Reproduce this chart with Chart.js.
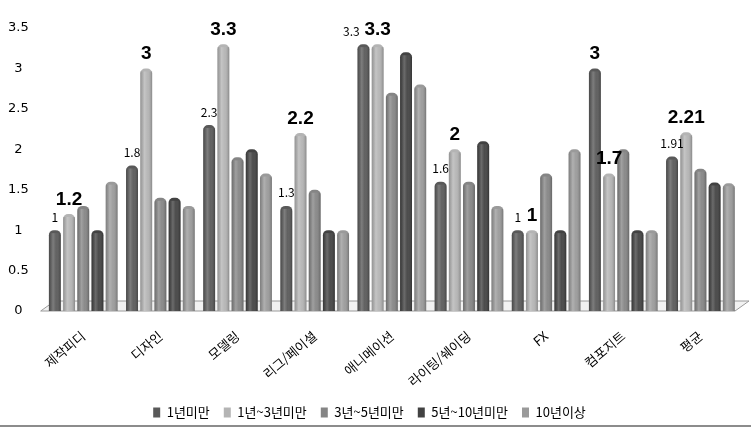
<!DOCTYPE html>
<html lang="ko">
<head>
<meta charset="UTF-8">
<title>경력별 평균</title>
<script src="https://cdn.jsdelivr.net/npm/chart.js"></script>
<style>
  html, body { margin: 0; padding: 0; background: #fff; }
  #wrap { position: relative; width: 751px; height: 436px; }
  #rule { position: absolute; left: 0; top: 425px; width: 751px; height: 2px; background: #8c8c8c; }
</style>
</head>
<body>
<div id="wrap">
  <canvas id="c" width="751" height="436"></canvas>
  <div id="rule"></div>
</div>
<script>
// categories and series
const categories = ['제작피디', '디자인', '모델링', '리그/페이셜', '애니메이션', '라이팅/쉐이딩', 'FX', '컴포지트', '평균'];
const seriesNames = ['1년미만', '1년~3년미만', '3년~5년미만', '5년~10년미만', '10년이상'];
const under1 = [1, 1.8, 2.3, 1.3, 3.3, 1.6, 1, 3, 1.91];
const y1to3 = [1.2, 3, 3.3, 2.2, 3.3, 2, 1, 1.7, 2.21];
const y3to5 = [1.3, 1.4, 1.9, 1.5, 2.7, 1.6, 1.7, 2, 1.76];
const y5to10 = [1, 1.4, 2, 1, 3.2, 2.1, 1, 1, 1.59];
const over10 = [1.6, 1.3, 1.7, 1, 2.8, 1.3, 2, 1, 1.58];
const yTicks = [0, 0.5, 1, 1.5, 2, 2.5, 3, 3.5];

// value labels shown on the first two series
const under1Labels = ['1', '1.8', '2.3', '1.3', '3.3', '1.6', '1', '3', '1.91'];
const under1Big = [false, false, false, false, false, false, false, true, false];
const y1to3Labels = ['1.2', '3', '3.3', '2.2', '3.3', '2', '1', '1.7', '2.21'];

const colors = ['#595959', '#b4b4b4', '#858585', '#424242', '#9a9a9a'];
const allSeries = [under1, y1to3, y3to5, y5to10, over10];

const FONT = '"Noto Sans CJK KR", "DejaVu Sans", sans-serif';
const NARROW = '"Liberation Sans Narrow", "Liberation Sans", sans-serif';

// floor under the bars, drawn like the 3D base of the original
const floorPlugin = {
  id: 'floor',
  beforeDatasetsDraw(chart) {
    const { ctx, chartArea } = chart;
    const y0 = chart.scales.y.getPixelForValue(0);
    ctx.save();
    ctx.fillStyle = '#f2f2f2';
    ctx.strokeStyle = '#9a9a9a';
    ctx.lineWidth = 1;
    ctx.beginPath();
    ctx.moveTo(chartArea.left - 4, y0);
    ctx.lineTo(chartArea.left + 10, y0 - 10);
    ctx.lineTo(chartArea.right + 10, y0 - 10);
    ctx.lineTo(chartArea.right - 4, y0);
    ctx.closePath();
    ctx.fill();
    ctx.stroke();
    ctx.restore();
  }
};

// cylinder shading and value labels
const barPlugin = {
  id: 'barDeco',
  afterDatasetsDraw(chart) {
    const { ctx } = chart;
    chart.data.datasets.forEach((ds, di) => {
      const meta = chart.getDatasetMeta(di);
      meta.data.forEach((bar) => {
        const w = bar.width;
        const g = ctx.createLinearGradient(bar.x - w / 2, 0, bar.x + w / 2, 0);
        g.addColorStop(0, 'rgba(0,0,0,0.18)');
        g.addColorStop(0.35, 'rgba(255,255,255,0.22)');
        g.addColorStop(0.6, 'rgba(255,255,255,0.05)');
        g.addColorStop(1, 'rgba(0,0,0,0.25)');
        ctx.save();
        ctx.fillStyle = g;
        ctx.fillRect(bar.x - w / 2, bar.y + 3, w, bar.base - bar.y - 3);
        ctx.restore();
      });
    });

    const small = '12px ' + FONT;
    const big = 'bold 19px ' + NARROW;
    ctx.save();
    ctx.textAlign = 'center';
    ctx.textBaseline = 'bottom';
    ctx.fillStyle = '#000';
    const m0 = chart.getDatasetMeta(0).data;
    const m1 = chart.getDatasetMeta(1).data;
    m0.forEach((bar, i) => {
      ctx.font = under1Big[i] ? big : small;
      const shift = i === 4 ? -12 : 0;
      ctx.fillText(under1Labels[i], bar.x + shift, bar.y - (under1Big[i] ? 5 : 7));
    });
    m1.forEach((bar, i) => {
      ctx.font = big;
      ctx.fillText(y1to3Labels[i], bar.x, bar.y - 5);
    });
    ctx.restore();
  }
};

new Chart(document.getElementById('c'), {
  type: 'bar',
  data: {
    labels: categories,
    datasets: seriesNames.map((name, i) => ({
      label: name,
      data: allSeries[i],
      backgroundColor: colors[i],
      borderRadius: { topLeft: 5, topRight: 5, bottomLeft: 0, bottomRight: 0 },
      borderSkipped: 'bottom',
      barPercentage: 0.84,
      categoryPercentage: 0.92
    }))
  },
  options: {
    responsive: false,
    animation: false,
    layout: { padding: { top: 28, right: 12, left: 0, bottom: 7 } },
    plugins: {
      tooltip: { enabled: false },
      legend: {
        position: 'bottom',
        labels: {
          boxWidth: 7,
          boxHeight: 10,
          padding: 14,
          color: '#000',
          font: { family: FONT, size: 13 }
        }
      }
    },
    scales: {
      x: {
        grid: { display: false },
        border: { display: false },
        afterFit(axis) { axis.height = 81; },
        ticks: {
          maxRotation: 40,
          minRotation: 40,
          color: '#000',
          padding: 9,
          font: { family: FONT, size: 13 }
        }
      },
      y: {
        min: 0,
        max: 3.5,
        afterBuildTicks(axis) { axis.ticks = yTicks.map(v => ({ value: v })); },
        grid: { display: false },
        border: { display: false },
        ticks: {
          color: '#000',
          padding: 8,
          crossAlign: 'center',
          font: { family: '"DejaVu Sans", sans-serif', size: 13 },
          callback: v => String(v)
        }
      }
    }
  },
  plugins: [floorPlugin, barPlugin]
});
</script>
</body>
</html>
